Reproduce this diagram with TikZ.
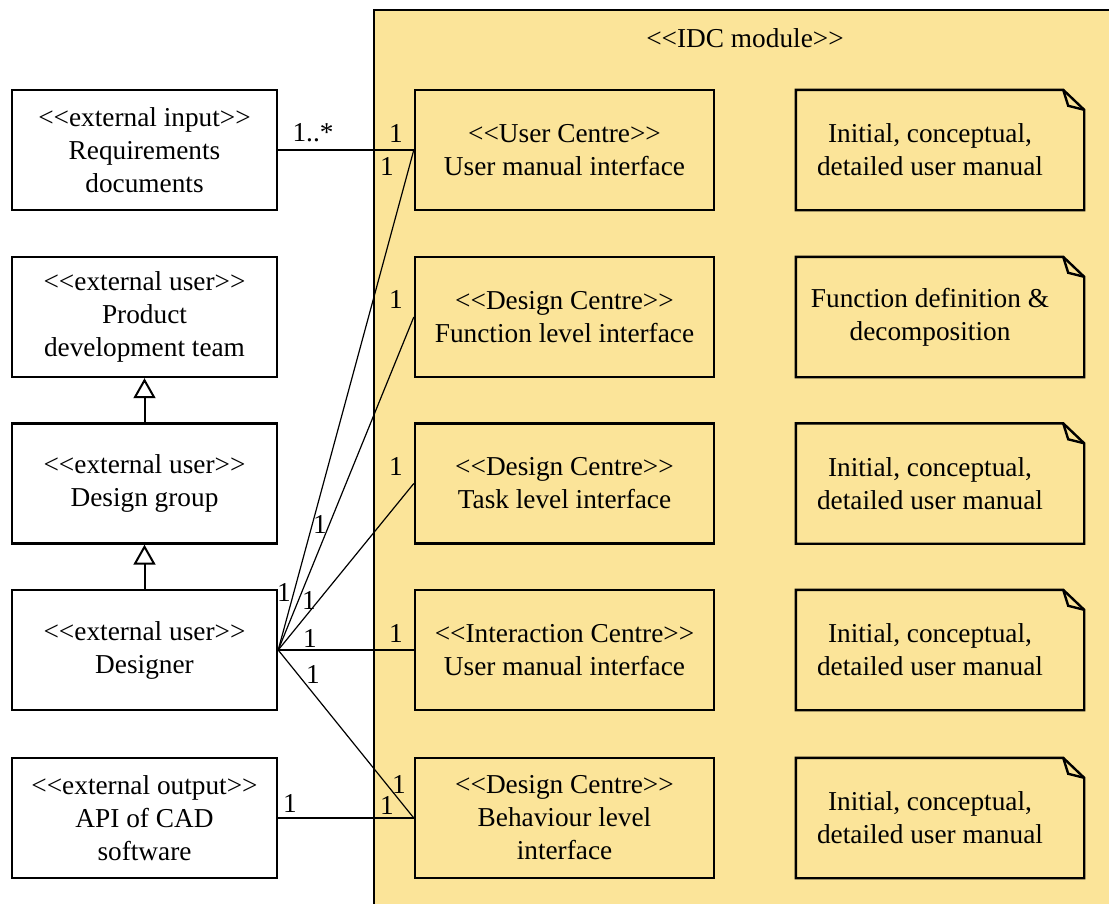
\documentclass[tikz,border=0pt]{standalone}
\usepackage{fontspec}
\setmainfont{Liberation Serif}
\usetikzlibrary{arrows.meta}
\definecolor{modfill}{RGB}{251,228,153}
\newcommand{\st}[1]{<{}<#1>{}>}
\begin{document}
\begin{tikzpicture}[x=1pt,y=-1pt,
  every node/.style={font=\fontsize{27.3}{33}\selectfont, align=center, inner sep=0pt},
  extbox/.style={draw, line width=2.4pt, fill=white, minimum width=265pt, minimum height=120pt},
  ifbox/.style={draw, line width=2.4pt, fill=modfill, minimum width=299pt, minimum height=120pt},
  notebox/.style={minimum width=288pt, minimum height=120pt},
  conn/.style={line width=1.2pt},
  gen/.style={line width=2pt, -{Triangle[open,length=20pt,width=22pt,line width=2pt]}},
  mult/.style={font=\fontsize{27.3}{30}\selectfont}]
\useasboundingbox (0,0) rectangle (1109,903);
\clip (0,0) rectangle (1109,903);
% module
\draw[line width=2.6pt, fill=modfill] (374,10) rectangle (1130,930);
\node (modlbl) at (745,38) {\st{IDC module}};
% left boxes
\node[extbox] (req) at (144.5,150) {\st{external input}\\Requirements\\documents};
\node[extbox] (pdt) at (144.5,317) {\st{external user}\\Product\\development team};
\node[extbox] (dg) at (144.5,483.5) {\st{external user}\\Design group};
\node[extbox] (des) at (144.5,650) {\st{external user}\\Designer};
\node[extbox] (api) at (144.5,818) {\st{external output}\\API of CAD\\software};
% interface boxes
\node[ifbox] (uc) at (564.5,150) {\st{User Centre}\\User manual interface};
\node[ifbox] (fl) at (564.5,317) {\st{Design Centre}\\Function level interface};
\node[ifbox] (tl) at (564.5,483.5) {\st{Design Centre}\\Task level interface};
\node[ifbox] (ic) at (564.5,650) {\st{Interaction Centre}\\User manual interface};
\node[ifbox] (bl) at (564.5,818) {\st{Design Centre}\\Behaviour level\\interface};
% notes
\foreach \n/\y/\t in {n1/150/{Initial, conceptual,\\detailed user manual},
                      n2/317/{Function definition \&\\decomposition},
                      n3/483.5/{Initial, conceptual,\\detailed user manual},
                      n4/650/{Initial, conceptual,\\detailed user manual},
                      n5/818/{Initial, conceptual,\\detailed user manual}}{
  \node[notebox] (\n) at (940,\y) {};
  \draw[line width=2.4pt, line join=miter] (\n.south west) -- (\n.north west) -- ([xshift=-21pt]\n.north east)
     -- ([yshift=-20pt]\n.north east) -- (\n.south east) -- cycle;
  \draw[line width=2.4pt, line join=miter] ([xshift=-21pt]\n.north east) -- ([xshift=-16pt,yshift=-16pt]\n.north east)
     -- ([yshift=-20pt]\n.north east);
  \node (\n t) at ([xshift=-10pt]\n.center) {\t};
}
% generalisations
\draw[gen] (dg.north) -- (pdt.south);
\draw[gen] (des.north) -- (dg.south);
% associations
\draw[conn] (req.east) -- (uc.west);
\draw[conn] (des.east) -- (uc.west);
\draw[conn] (des.east) -- (fl.west);
\draw[conn] (des.east) -- (tl.west);
\draw[conn] (des.east) -- (ic.west);
\draw[conn] (des.east) -- (bl.west);
\draw[conn] (api.east) -- (bl.west);
% multiplicities
\node[mult] (m1) at (313,133) {1..*};
\node[mult] (m2) at (396,133) {1};
\node[mult] (m3) at (387,166) {1};
\node[mult] (m4) at (396,299) {1};
\node[mult] (m5) at (396,466) {1};
\node[mult] (m6) at (396,633) {1};
\node[mult] (m7) at (399,784) {1};
\node[mult] (m8) at (387,805) {1};
\node[mult] (m9) at (290,803) {1};
\node[mult] (m10) at (320,524) {1};
\node[mult] (m11) at (284,592) {1};
\node[mult] (m12) at (309,600) {1};
\node[mult] (m13) at (310,638) {1};
\node[mult] (m14) at (313,674) {1};
\end{tikzpicture}
\end{document}
